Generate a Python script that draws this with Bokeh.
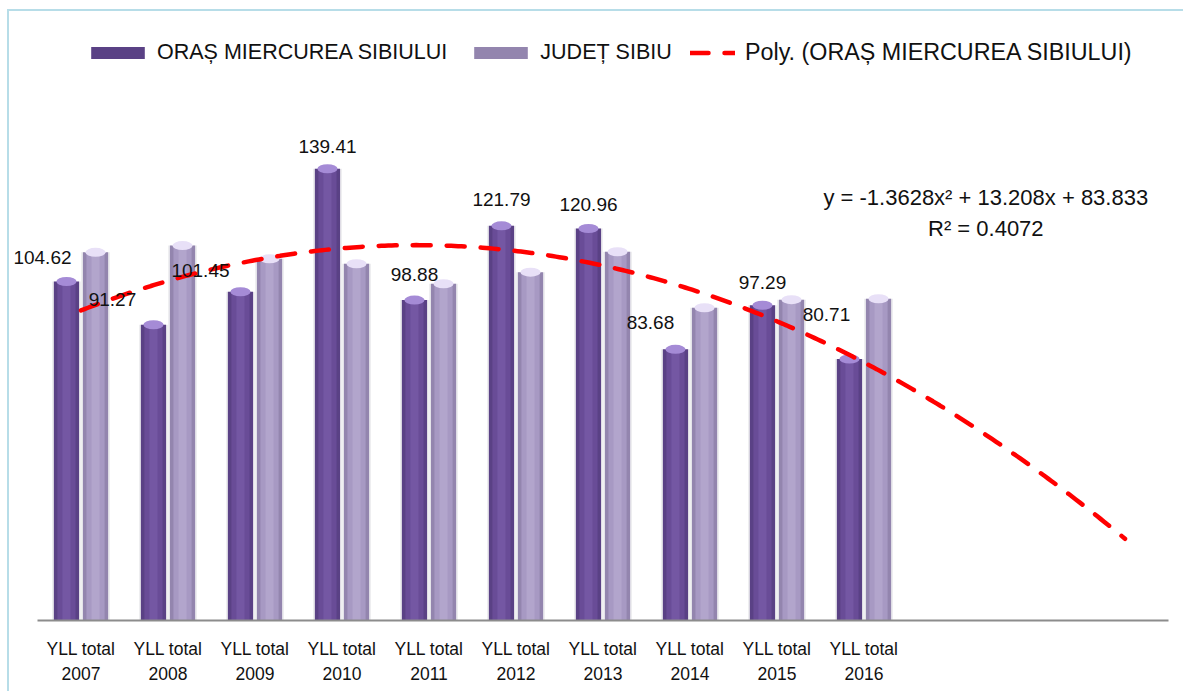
import numpy as np
from bokeh.plotting import figure
from bokeh.models import (ColumnDataSource, Range1d, FixedTicker, Legend, LegendItem, Label,
                          LabelSet)
from bokeh.core.properties import value
from bokeh.embed import file_html
from bokeh.resources import INLINE

# ---------------- data ----------------
YEARS = [2007, 2008, 2009, 2010, 2011, 2012, 2013, 2014, 2015, 2016]
TICK_LABELS = ["YLL total\n2007", "YLL total\n2008", "YLL total\n2009", "YLL total\n2010",
               "YLL total\n2011", "YLL total\n2012", "YLL total\n2013", "YLL total\n2014",
               "YLL total\n2015", "YLL total\n2016"]
ORAS = [104.62, 91.27, 101.45, 139.41, 98.88, 121.79, 120.96, 83.68, 97.29, 80.71]
JUDET = [113.6, 115.7, 111.6, 110.1, 103.9, 107.5, 113.8, 96.5, 99.0, 99.3]
SERIES_NAMES = ["ORAȘ MIERCUREA SIBIULUI", "JUDEȚ SIBIU", "Poly. (ORAȘ MIERCUREA SIBIULUI)"]
TREND_COEF = [-1.3628, 13.208, 83.833]   # from the chart's trendline equation
TREND_TEXT = "y = -1.3628x² + 13.208x + 83.833"
R2_TEXT = "R² = 0.4072"
FORECAST_PERIODS = 3

# label nudges in pixels (placement only)
LABEL_DX = [-24, -41, -40, 0, 0, 0, 0, -25, 0, -23]
LABEL_DY = [24, 25, 21, 22, 26, 26, 24, 27, 23, 44]

FONT = "Liberation Sans"
W, H = 1176, 682
MB_TOP, MB_BOTTOM, MB_RIGHT = 1, 73, 17
AXIS_LEFT_PX = 28               # where the category axis begins inside the canvas
FRAME_H = H - MB_TOP - MB_BOTTOM
PX_PER_UNIT = 3.2406
YMAX = FRAME_H / PX_PER_UNIT
NCAT = len(YEARS) + FORECAST_PERIODS
FRAME_W = W - MB_RIGHT
PX_PER_CAT = (FRAME_W - AXIS_LEFT_PX) / NCAT
X_START = 0.5 - AXIS_LEFT_PX / PX_PER_CAT

x = np.arange(1, len(YEARS) + 1)
BW = 0.29
OFF = 0.167

src = ColumnDataSource(dict(
    x=x, xd=x - OFF, xl=x + OFF, oras=ORAS, judet=JUDET,
    lab=[f"{v:.2f}" for v in ORAS],
    dx=LABEL_DX, dy=LABEL_DY,
))

p = figure(width=W, height=H, x_range=Range1d(X_START, NCAT + 0.5), y_range=Range1d(0, YMAX),
           output_backend="svg", toolbar_location=None,
           min_border_left=0, min_border_right=MB_RIGHT,
           min_border_top=MB_TOP, min_border_bottom=MB_BOTTOM,
           styles={"margin-left": "7px", "margin-top": "9px",
                   "border-left": "2px solid #B7DDE8", "border-top": "2px solid #B7DDE8"})
p.background_fill_color = "white"
p.border_fill_color = "white"
p.outline_line_color = None
p.xgrid.visible = False
p.ygrid.visible = False
p.yaxis.visible = False

# soft shadows
for xc, col in (("xd", "oras"), ("xl", "judet")):
    p.vbar(x=xc, top=col, width=BW + 0.04, source=src, fill_color="#ECECEF",
           line_color=None)

# cylinder-like bars
dark = p.vbar(x="xd", top="oras", width=BW, source=src, fill_color="#5A4185", line_color=None)
p.vbar(x="xd", top="oras", width=BW * 0.72, source=src, fill_color="#694C97", line_color=None)
p.vbar(x="xd", top="oras", width=BW * 0.32, source=src, fill_color="#7457A3", line_color=None)
p.ellipse(x="xd", y="oras", width=BW * 0.8, height=9, height_units="screen", source=src,
          fill_color="#A58BD6", line_color=None)

light = p.vbar(x="xl", top="judet", width=BW, source=src, fill_color="#9385AE", line_color=None)
p.vbar(x="xl", top="judet", width=BW * 0.72, source=src, fill_color="#A799C3", line_color=None)
p.vbar(x="xl", top="judet", width=BW * 0.32, source=src, fill_color="#B2A5CC", line_color=None)
p.ellipse(x="xl", y="judet", width=BW * 0.8, height=9, height_units="screen", source=src,
          fill_color="#E8E0F7", line_color=None)

# polynomial trendline (chart's own equation), extended by the forecast periods
xs = np.linspace(1, NCAT, 300)
ys = np.polyval(TREND_COEF, xs)
trend = p.line(xs, ys, line_color="#FF0000", line_width=4.5, line_dash="18 16", line_cap="round")

# data labels
p.add_layout(LabelSet(x="xd", y="oras", text="lab", source=src, x_offset="dx", y_offset="dy",
                      text_align="center", text_baseline="middle", text_font=value(FONT),
                      text_font_size="19px", text_color="#111111"))

# equation labels
p.add_layout(Label(x=11.4, y=(620 - 197) / PX_PER_UNIT, text=TREND_TEXT, text_align="center",
                   text_baseline="middle", text_font=FONT, text_font_size="22px",
                   text_color="#111111"))
p.add_layout(Label(x=11.4, y=(620 - 228) / PX_PER_UNIT, text=R2_TEXT, text_align="center",
                   text_baseline="middle", text_font=FONT, text_font_size="22px",
                   text_color="#111111"))

# x axis
ax = p.xaxis[0]
ax.bounds = (0.5, NCAT + 0.5)
ax.ticker = FixedTicker(ticks=list(x))
ax.major_label_overrides = {int(i): lab for i, lab in zip(x, TICK_LABELS)}
ax.major_tick_line_color = None
ax.minor_tick_line_color = None
ax.axis_line_color = "#8C8C8C"
ax.axis_line_width = 2
ax.major_label_standoff = 12
ax.major_label_text_font = FONT
ax.major_label_text_font_size = "17.5px"
ax.major_label_text_color = "#111111"
ax.major_label_text_line_height = 1.25

# legends
common = dict(orientation="horizontal", padding=0, margin=0, border_line_color=None,
              background_fill_alpha=0, label_text_font=FONT,
              label_text_color="#111111", glyph_height=15, spacing=20)
leg1 = Legend(items=[LegendItem(label=SERIES_NAMES[0], renderers=[dark]),
                     LegendItem(label=SERIES_NAMES[1], renderers=[light])],
              location=(AXIS_LEFT_PX + 47, 555), glyph_width=67, label_standoff=6,
              label_text_font_size="21.5px", **common)
leg2 = Legend(items=[LegendItem(label=SERIES_NAMES[2], renderers=[trend])],
              location=(AXIS_LEFT_PX + 653, 554), glyph_width=45, label_standoff=10,
              label_text_font_size="23.3px", **common)
p.add_layout(leg1)
p.add_layout(leg2)

open("out.html", "w").write(file_html(p, INLINE))
